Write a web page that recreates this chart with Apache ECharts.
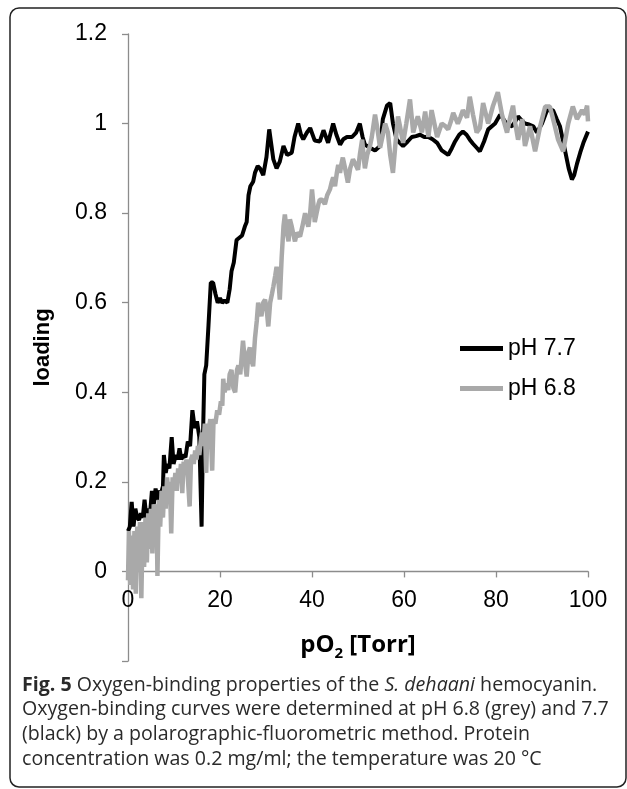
<!DOCTYPE html>
<html>
<head>
<meta charset="utf-8">
<script src="https://cdn.jsdelivr.net/npm/echarts@6/dist/echarts.min.js"></script>
<style>
html,body{margin:0;padding:0;background:#fff;}
#chart{width:627px;height:789px;}
</style>
</head>
<body>
<div id="chart"></div>
<script>
// ---- data ----
const seriesNames = ['pH 7.7', 'pH 6.8'];
const xTicks = [0, 20, 40, 60, 80, 100];
const yTicks = [-0.2, 0, 0.2, 0.4, 0.6, 0.8, 1, 1.2];

const blackX = [0,0.4,0.8,1.2,1.6,2.0,2.4,2.8,3.2,3.6,4.0,4.4,4.8,5.2,5.6,6.0,6.4,6.8,7.2,7.6,7.8,8.2,8.6,9.0,9.5,9.9,10.4,10.8,11.2,11.6,12.0,12.5,13.0,13.5,14.0,14.5,15.0,15.5,16.0,16.3,16.6,17.0,17.5,18.0,18.5,19.0,19.5,20.0,20.5,21.0,21.6,22.1,22.5,23.0,23.6,24.2,24.8,25.4,25.8,26.2,26.6,27.2,27.6,28.2,28.7,29.4,30.1,30.7,31.2,31.6,32.3,33.0,33.8,34.6,35.6,36.2,37.0,37.6,38.1,38.9,39.6,40.6,41.7,42.5,43.5,44.6,45.3,46.1,46.8,47.6,48.7,49.6,50.4,51.0,51.5,52.6,53.7,54.8,55.4,56.3,57.0,57.6,58.4,59.8,60.8,61.7,62.6,63.5,64.4,65.3,66.2,67.2,68.2,69.6,70.4,71.1,72.0,72.8,73.6,74.3,75.0,75.8,76.5,77.4,78.3,79.8,80.9,81.6,82.4,83.5,84.2,84.8,85.5,86.3,87.2,88.1,88.9,90.0,91.1,92.4,93.2,93.9,95.0,95.8,96.5,97.0,97.6,98.3,99.0,100];
const blackY = [0.09,0.10,0.155,0.10,0.14,0.12,0.115,0.13,0.12,0.16,0.12,0.14,0.13,0.18,0.15,0.185,0.16,0.18,0.175,0.19,0.26,0.22,0.24,0.23,0.30,0.24,0.26,0.25,0.275,0.25,0.26,0.255,0.29,0.28,0.36,0.32,0.335,0.30,0.10,0.30,0.44,0.46,0.55,0.645,0.645,0.62,0.60,0.61,0.60,0.605,0.60,0.63,0.67,0.69,0.74,0.745,0.75,0.77,0.78,0.84,0.86,0.87,0.89,0.905,0.90,0.885,0.925,0.987,0.95,0.92,0.90,0.915,0.95,0.93,0.935,0.97,1.0,0.975,0.965,0.98,0.99,0.962,0.96,0.985,0.957,1.0,0.975,0.953,0.965,0.97,0.97,0.98,1.0,0.97,0.953,0.946,0.94,0.95,1.01,1.04,1.046,1.0,0.964,0.95,0.96,0.97,0.972,0.975,0.97,0.97,0.965,0.957,0.94,0.93,0.945,0.96,0.975,0.982,0.975,0.964,0.955,0.946,0.938,0.96,0.987,1.0,1.02,1.01,0.998,0.994,1.005,1.016,1.008,1.0,0.998,0.994,0.98,1.0,1.03,1.03,1.01,0.994,0.94,0.90,0.875,0.885,0.91,0.935,0.957,0.982];

const greyX = [0.0,0.2,0.5,0.8,1.1,1.4,1.7,2.0,2.3,2.6,2.9,3.2,3.5,3.8,4.1,4.4,4.7,5.0,5.3,5.6,5.9,6.2,6.4,6.7,7.0,7.3,7.6,7.9,8.2,8.5,8.8,9.1,9.4,9.7,10.0,10.3,10.6,10.9,11.2,11.5,11.8,12.1,12.4,12.7,13.0,13.4,13.7,14.0,14.3,14.6,14.9,15.2,15.5,15.8,16.1,16.4,16.7,17.0,17.3,17.6,17.9,18.3,18.6,19.0,19.4,19.8,20.2,20.5,20.7,21.0,21.4,21.8,22.1,22.5,22.9,23.3,23.7,24.0,24.4,25.0,25.4,25.8,26.2,26.5,26.9,27.2,27.6,28.0,28.3,28.7,29.0,29.4,29.8,30.2,30.5,30.9,31.3,31.6,32.0,32.3,32.7,33.0,33.4,33.8,34.1,34.5,34.9,35.2,35.6,36.0,36.3,36.7,37.0,37.4,37.9,38.5,38.8,39.2,39.6,40.0,40.3,40.6,41.0,41.4,41.7,42.2,42.8,43.3,43.9,44.3,44.6,45.0,45.4,45.7,46.1,46.4,46.7,47.2,47.8,48.3,48.9,49.4,50.0,50.4,50.9,51.2,51.5,52.0,52.6,53.0,53.7,54.2,54.8,55.3,55.9,56.5,57.0,57.6,58.1,58.7,59.2,59.8,60.5,61.3,62.0,62.5,63.0,63.9,64.6,65.3,66.0,66.6,67.2,68.2,68.9,69.6,70.2,70.7,71.7,72.3,72.8,73.7,74.3,75.0,75.8,76.5,77.2,78.3,79.3,80.4,81.3,82.4,83.0,83.7,84.2,84.8,85.7,86.3,87.4,88.5,89.6,90.7,91.7,92.3,92.8,93.5,94.6,95.7,96.7,97.6,98.7,99.3,99.8,100];
const greyY = [-0.02,0.09,-0.03,0.08,-0.04,0.09,-0.05,0.10,0.0,0.11,-0.06,0.11,0.01,0.12,0.02,0.13,0.05,0.14,0.04,0.15,0.06,0.15,-0.01,0.16,0.10,0.18,0.12,0.19,0.14,0.21,0.17,0.20,0.085,0.21,0.19,0.22,0.18,0.23,0.20,0.24,0.175,0.245,0.22,0.25,0.21,0.145,0.25,0.26,0.24,0.27,0.25,0.28,0.26,0.29,0.31,0.28,0.33,0.22,0.33,0.32,0.34,0.225,0.34,0.33,0.36,0.35,0.38,0.37,0.43,0.40,0.42,0.405,0.44,0.45,0.41,0.40,0.45,0.46,0.44,0.515,0.47,0.435,0.49,0.50,0.47,0.458,0.52,0.56,0.60,0.58,0.57,0.60,0.607,0.58,0.547,0.60,0.62,0.636,0.66,0.68,0.65,0.607,0.70,0.77,0.797,0.76,0.737,0.786,0.77,0.75,0.737,0.756,0.76,0.748,0.77,0.80,0.785,0.77,0.80,0.853,0.82,0.78,0.80,0.82,0.83,0.83,0.82,0.84,0.853,0.87,0.88,0.86,0.89,0.908,0.89,0.91,0.924,0.90,0.868,0.90,0.92,0.91,0.897,0.93,0.964,0.93,0.90,0.93,0.95,0.97,1.02,0.99,0.946,0.97,1.0,0.98,0.93,0.89,0.95,1.016,0.99,0.957,1.0,1.054,0.98,1.0,1.016,0.98,1.027,0.97,1.03,1.0,0.97,1.0,0.995,0.987,1.005,1.024,1.0,1.015,1.03,1.013,1.06,1.02,0.98,0.99,1.046,1.0,1.038,1.07,1.02,0.98,1.01,1.04,1.0,0.964,1.01,0.95,0.994,0.938,0.994,1.038,1.038,1.015,0.994,0.964,0.938,1.0,1.038,1.01,1.03,1.02,1.04,1.005];

const captionLines = [
  '{b|Fig. 5} Oxygen-binding properties of the {i|S. dehaani} hemocyanin.',
  'Oxygen-binding curves were determined at pH 6.8 (grey) and 7.7',
  '(black) by a polarographic-fluorometric method. Protein',
  'concentration was 0.2 mg/ml; the temperature was 20 °C'
];

// ---- chart ----
const chart = echarts.init(document.getElementById('chart'), null, {renderer: 'canvas'});
const pair = (xs, ys) => xs.map((x, i) => [x, ys[i]]);
const axisColor = '#8c8c8c';
const labelFont = 'Liberation Sans, Arial, sans-serif';
const capFont = 'Open Sans, Noto Sans, sans-serif';
const gridTop = 34, gridBottomPx = 661;
const zeroOffset = -(gridBottomPx - gridTop) / (yTicks.length - 1); // axis sits at y = 0

const capSize = 19.6;
const graphics = [{
  type: 'rect', shape: {x: 10, y: 8, width: 616, height: 779, r: 9},
  style: {fill: 'none', stroke: '#222', lineWidth: 1.5}, silent: true
}];
captionLines.forEach((t, i) => {
  graphics.push({
    type: 'text', left: 22, top: 675 + i * 24.8,
    style: {
      text: t, fontFamily: capFont, fontSize: capSize, fill: '#2a2a2a',
      rich: {
        b: {fontFamily: capFont, fontSize: capSize, fontWeight: 'bold', fill: '#2a2a2a'},
        i: {fontFamily: capFont, fontSize: capSize, fontStyle: 'italic', fill: '#2a2a2a'}
      }
    }
  });
});

chart.setOption({
  animation: false,
  backgroundColor: '#fff',
  grid: {left: 128, right: 39, top: gridTop, bottom: 789 - gridBottomPx, containLabel: false},
  legend: {
    data: seriesNames, orient: 'vertical', left: 460, top: 337,
    itemWidth: 43, itemHeight: 5, itemGap: 17, icon: 'rect', padding: 0,
    textStyle: {fontFamily: labelFont, fontSize: 23, color: '#000', lineHeight: 23}
  },
  xAxis: {
    type: 'value', min: xTicks[0], max: xTicks[xTicks.length - 1], interval: 20,
    offset: zeroOffset,
    axisLine: {onZero: false, lineStyle: {color: axisColor, width: 1.3}},
    axisTick: {show: true, inside: false, length: 6, lineStyle: {color: axisColor, width: 1.3}},
    axisLabel: {fontFamily: labelFont, fontSize: 23, color: '#000', margin: 18},
    splitLine: {show: false},
    name: '{a|pO}{s|2}{a| [Torr]}', nameLocation: 'middle', nameGap: 57,
    nameTextStyle: {
      rich: {
        a: {fontFamily: capFont, fontSize: 24, fontWeight: 'bold', color: '#000'},
        s: {fontFamily: capFont, fontSize: 15, fontWeight: 'bold', color: '#000', verticalAlign: 'bottom', padding: [18, 0, 0, 0]}
      }
    }
  },
  yAxis: {
    type: 'value', min: yTicks[0], max: yTicks[yTicks.length - 1], interval: 0.2,
    axisLine: {show: true, lineStyle: {color: axisColor, width: 1.3}},
    axisTick: {show: true, inside: false, length: 6, lineStyle: {color: axisColor, width: 1.3}},
    axisLabel: {
      fontFamily: labelFont, fontSize: 23, color: '#000', margin: 21,
      formatter: v => (v < -0.1 ? '' : String(+v.toFixed(1)))
    },
    splitLine: {show: false},
    name: 'loading', nameLocation: 'middle', nameGap: 74, nameRotate: 90,
    nameTextStyle: {fontFamily: labelFont, fontSize: 22, fontWeight: 'bold', color: '#000'}
  },
  series: [
    {
      name: seriesNames[0], type: 'line', data: pair(blackX, blackY), symbol: 'none',
      color: '#000', lineStyle: {color: '#000', width: 4}, z: 2
    },
    {
      name: seriesNames[1], type: 'line', data: pair(greyX, greyY), symbol: 'none',
      color: '#a9a9a9', lineStyle: {color: '#a9a9a9', width: 4.5}, z: 3
    }
  ],
  graphic: graphics
});
</script>
</body>
</html>
